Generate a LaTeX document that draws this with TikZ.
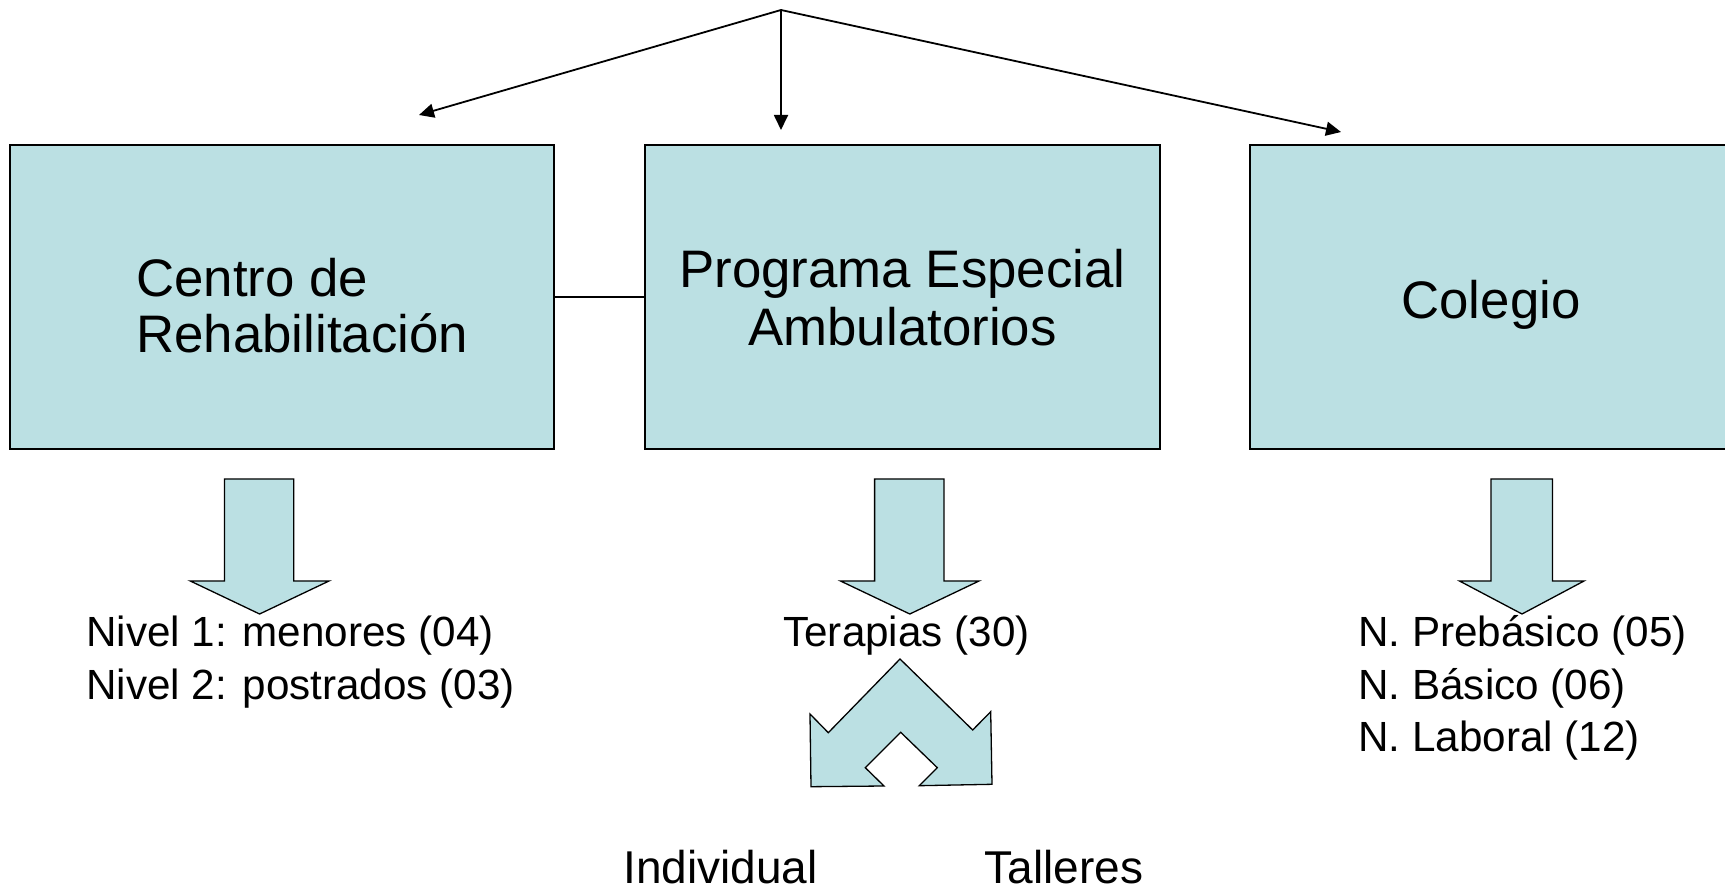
\documentclass[tikz,border=0pt]{standalone}
\usepackage{fontspec}
\setmainfont{Liberation Sans}
\usetikzlibrary{arrows.meta}
\definecolor{boxfill}{RGB}{187,224,227}
\tikzset{
  x=0.5pt, y=-0.5pt,
  unitbox/.style={draw=black, line width=0.9pt, fill=boxfill, inner sep=0pt},
  blockarrow/.style={draw=black, line width=0.65pt, fill=boxfill, line join=miter},
  linkline/.style={draw=black, line width=0.75pt},
  toparrow/.style={draw=black, line width=0.9pt, -{Triangle[length=7.5pt,width=7pt]}},
  bigtxt/.style={inner sep=0pt, font=\fontsize{26.4pt}{30pt}\selectfont},
  smalltxt/.style={inner sep=0pt, font=\fontsize{21.1pt}{25pt}\selectfont},
  midtxt/.style={inner sep=0pt, font=\fontsize{23pt}{27pt}\selectfont},
}
\begin{document}
\begin{tikzpicture}
\clip (0,0) rectangle (1725,887);
\fill[white] (0,0) rectangle (1725,887);

% boxes
\path[unitbox] (10,145) rectangle (554,449);
\node[minimum width=272pt, minimum height=152pt, inner sep=0pt] (left) at (282,297) {};
\path[unitbox] (645,145) rectangle (1160,449);
\node[minimum width=257.5pt, minimum height=152pt, inner sep=0pt] (mid) at (902.5,297) {};
\path[unitbox] (1250,145) rectangle (1732,449);
\node[minimum width=241pt, minimum height=152pt, inner sep=0pt] (right) at (1491,297) {};

% connector between left and middle boxes
\draw[linkline] (left.east) -- (mid.west);

% top arrows
\coordinate (apex) at (781,10);
\coordinate (tl) at (419,115);
\coordinate (tm) at (781,130);
\coordinate (tr) at (1341,132);
\draw[toparrow] (apex) -- (tl);
\draw[toparrow] (apex) -- (tm);
\draw[toparrow] (apex) -- (tr);

% box texts
\node[bigtxt, anchor=base west] (c1) at (136,297) {Centro de};
\node[bigtxt, anchor=base west] (c2) at (136,353) {Rehabilitación};
\node[bigtxt, anchor=base] (p1) at (902.5,288) {Programa Especial};
\node[bigtxt, anchor=base] (p2) at (902.5,346) {Ambulatorios};
\node[bigtxt, anchor=base] (co) at (1491,319) {Colegio};

% block down arrows
\draw[blockarrow] (224.4,479) -- (293.7,479) -- (293.7,581) -- (329,581) -- (259.6,614)
  -- (190.3,581) -- (224.4,581) -- cycle;
\draw[blockarrow] (874.6,479) -- (943.9,479) -- (943.9,581) -- (979,581) -- (909.8,614)
  -- (840.5,581) -- (874.6,581) -- cycle;
\draw[blockarrow] (1491,479) -- (1552.5,479) -- (1552.5,581) -- (1584,581) -- (1522,614)
  -- (1459.5,581) -- (1491,581) -- cycle;

% split arrow
\draw[blockarrow] (900,659) -- (828.3,732.7) -- (810,714) -- (811,786.7) -- (884,786)
  -- (865.3,767.7) -- (900.7,732.3) -- (937.3,767.7) -- (919.3,785.7) -- (992,784.3)
  -- (990.7,711.7) -- (972.7,730) -- cycle;

% lower texts
\node[smalltxt, anchor=base west] (n1) at (86,646.5) {Nivel 1: menores (04)};
\node[smalltxt, anchor=base west] (n2) at (86,699) {Nivel 2: postrados (03)};
\node[smalltxt, anchor=base] (ter) at (906.5,646.5) {Terapias (30)};
\node[smalltxt, anchor=base west] (k1) at (1358,646.5) {N. Prebásico (05)};
\node[smalltxt, anchor=base west] (k2) at (1358,699) {N. Básico (06)};
\node[smalltxt, anchor=base west] (k3) at (1358,751.5) {N. Laboral (12)};
\node[midtxt, anchor=base] (ind) at (720.6,883) {Individual};
\node[midtxt, anchor=base] (tal) at (1064,883) {Talleres};
\end{tikzpicture}
\end{document}
